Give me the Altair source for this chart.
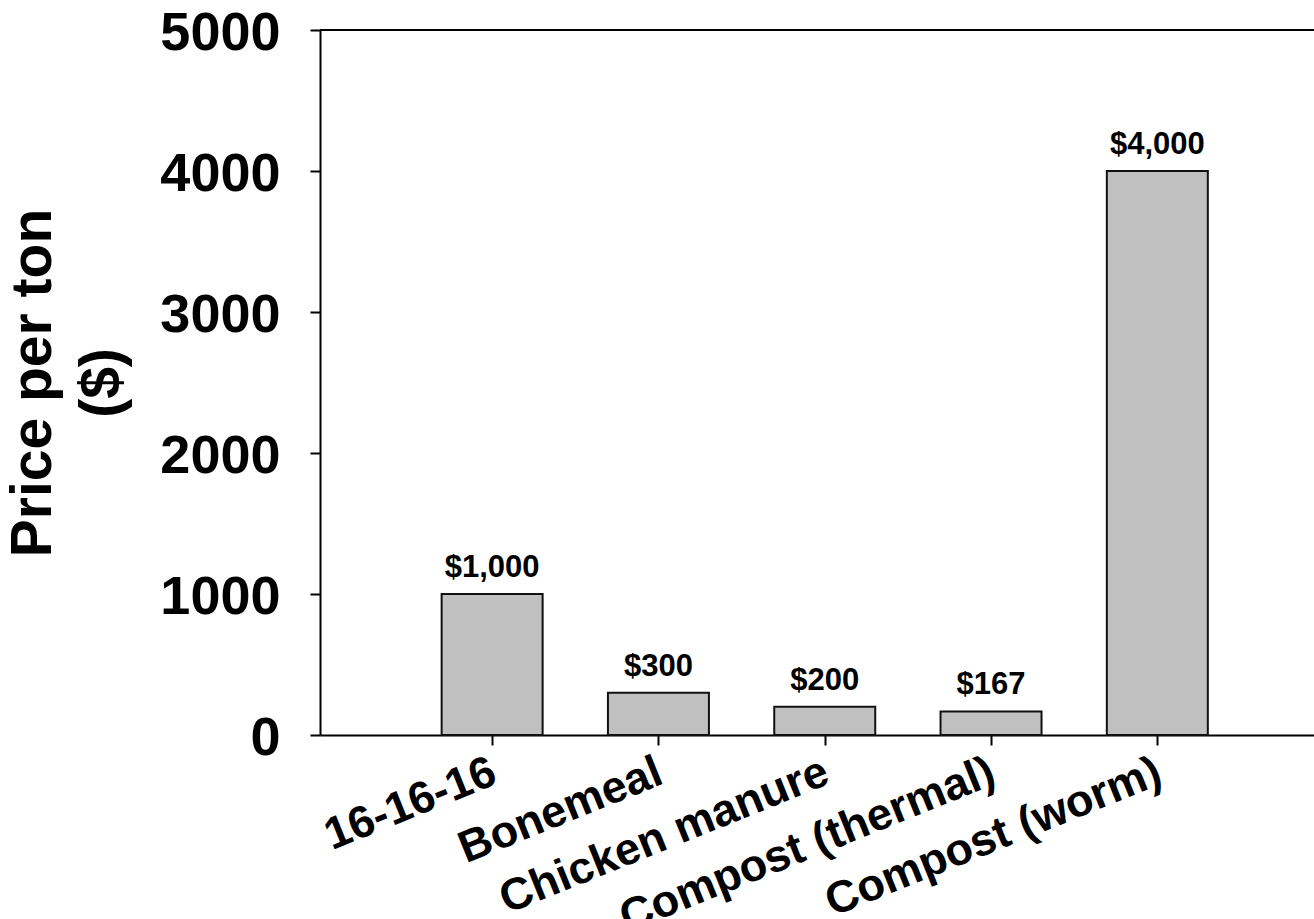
import json

import altair as alt
import pandas as pd

# Fertilizer price comparison (dollars per ton)
products = ["16-16-16", "Bonemeal", "Chicken manure", "Compost (thermal)", "Compost (worm)"]
price_per_ton = [1000, 300, 200, 167, 4000]
y_ticks = [0, 1000, 2000, 3000, 4000, 5000]

slots = list(range(1, len(products) + 1))
df = pd.DataFrame({"slot": slots, "product": products, "price": price_per_ton})

FONT = "Liberation Sans"
label_expr = json.dumps(products) + "[datum.value - 1]"

x_enc = alt.X(
    "slot:Q",
    scale=alt.Scale(domain=[-0.005, 5.912], nice=False, zero=False),
    axis=alt.Axis(
        values=slots,
        labelExpr=label_expr,
        title=None,
        grid=False,
        tickSize=10,
        tickWidth=2,
        tickColor="black",
        domainWidth=2,
        domainColor="black",
        labelAngle=338,
        labelAlign="right",
        labelBaseline="top",
        labelPadding=4,
        labelOffset=-7,
        labelFontSize=45,
        labelFont=FONT,
        labelFontWeight="bold",
        labelColor="black",
        labelOverlap=False,
        labelFlush=False,
        labelLimit=0,
    ),
)

y_enc = alt.Y(
    "price:Q",
    scale=alt.Scale(domain=[0, 5000], nice=False),
    axis=alt.Axis(
        values=y_ticks,
        format="d",
        grid=False,
        tickSize=10,
        tickWidth=2,
        tickColor="black",
        domainWidth=2,
        domainColor="black",
        labelPadding=30,
        labelFontSize=54,
        labelFont=FONT,
        labelFontWeight="bold",
        labelColor="black",
        labelOffset=3,
        title=["Price per ton", "($)"],
        titleFont=FONT,
        titleFontSize=57,
        titleFontWeight="bold",
        titleColor="black",
        titleAngle=270,
        titleAlign="center",
        titleBaseline="alphabetic",
        titleLineHeight=69,
        titleX=-270,
        titleY=352.5,
    ),
)

bars = alt.Chart(df).mark_bar(
    size=101, color="#c0c0c0", stroke="#111111", strokeWidth=2
).encode(x=x_enc, y=y_enc)

labels = alt.Chart(df).mark_text(
    dy=-17, baseline="alphabetic", fontSize=31, fontWeight="bold", font=FONT, color="black"
).encode(x=x_enc, y=y_enc, text=alt.Text("price:Q", format="$,.0f"))

# top edge of the plot frame
frame_top = alt.Chart(df).mark_rule(color="black", strokeWidth=2).encode(y=alt.datum(5000))

chart = (
    alt.layer(bars, labels, frame_top)
    .properties(
        width=994,
        height=705,
        autosize=alt.AutoSizeParams(type="none"),
        padding={"left": 320, "top": 30, "right": 0, "bottom": 184},
        background="white",
    )
    .configure_view(stroke=None)
)

chart.save("out.html", embed_options={"renderer": "svg", "actions": False})
